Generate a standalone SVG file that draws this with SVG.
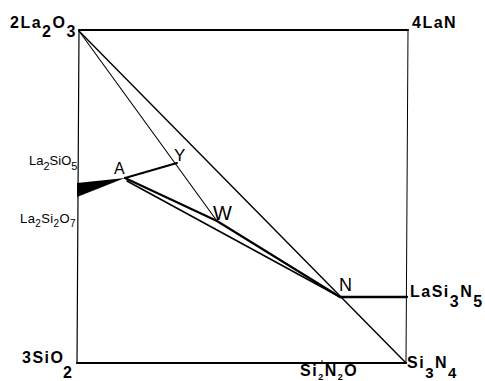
<svg xmlns="http://www.w3.org/2000/svg" width="485" height="381" viewBox="0 0 485 381">
<style>
.big{font-family:"Liberation Sans",Arial,sans-serif;font-size:16px;font-weight:bold;letter-spacing:1.5px;fill:#000}
.sm{font-family:"Liberation Sans",Arial,sans-serif;font-size:13px;fill:#000}
.pt{font-family:"Liberation Sans",Arial,sans-serif;fill:#000}
.ln{stroke:#000;fill:none;stroke-linecap:round;stroke-linejoin:round}
</style>
<rect width="485" height="381" fill="#fff"/>
<g id="connectors">
<line class="ln" x1="79" y1="30" x2="408" y2="30" stroke-width="2.2"/>
<line class="ln" x1="408" y1="30" x2="406" y2="363" stroke-width="1"/>
<line class="ln" x1="77" y1="363" x2="406" y2="363" stroke-width="2.2"/>
<line class="ln" x1="79" y1="30" x2="77" y2="363" stroke-width="1.2"/>
<line class="ln" x1="79" y1="31" x2="406" y2="363" stroke-width="1.4"/>
<line class="ln" x1="79" y1="31" x2="217" y2="221" stroke-width="1.1"/>
<line class="ln" x1="125" y1="178" x2="177" y2="163" stroke-width="2"/>
<polyline class="ln" points="125,178 217,221 340,297" stroke-width="2.2"/>
<line class="ln" x1="127" y1="181" x2="340" y2="297" stroke-width="1.6"/>
<line class="ln" x1="340" y1="297" x2="407" y2="297" stroke-width="2.3"/>
<polygon points="77,183 125,178 77,197" fill="#000"/>
<line class="ln" x1="322" y1="360.5" x2="322" y2="363" stroke-width="1"/>
</g>
<g id="La2O3"><text class="big" x="10" y="28">2La<tspan dy="9">2</tspan><tspan dy="-9">O</tspan><tspan dy="9">3</tspan></text></g>
<g id="LaN"><text class="big" x="412" y="28">4LaN</text></g>
<g id="SiO2"><text class="big" x="22" y="363">3SiO<tspan dx="-1.5" dy="15">2</tspan></text></g>
<g id="Si3N4"><text class="big" x="407" y="368">Si<tspan dy="10" font-size="15">3</tspan><tspan dy="-10">N</tspan><tspan dy="10" font-size="15">4</tspan></text></g>
<g id="LaSi3N5"><text class="big" x="410" y="297" font-size="17" letter-spacing="1.2">LaSi<tspan dy="10">3</tspan><tspan dy="-10">N</tspan><tspan dy="10">5</tspan></text></g>
<g id="Si2N2O"><text class="big" x="300" y="376" font-size="14" letter-spacing="1">Si<tspan dy="4" font-size="9">2</tspan><tspan dy="-4">N</tspan><tspan dy="4" font-size="9">2</tspan><tspan dy="-4">O</tspan></text></g>
<g id="La2SiO5"><text class="sm" x="29" y="165">La<tspan dy="5" font-size="11">2</tspan><tspan dy="-5">SiO</tspan><tspan dy="5" font-size="11">5</tspan></text></g>
<g id="La2Si2O7"><text class="sm" x="20" y="223" font-size="12" letter-spacing="0.4">La<tspan dy="4" font-size="10">2</tspan><tspan dy="-4">Si</tspan><tspan dy="4" font-size="10">2</tspan><tspan dy="-4">O</tspan><tspan dy="4" font-size="10">7</tspan></text></g>
<g id="A"><text class="pt" x="114" y="174" font-size="16">A</text></g>
<g id="Y"><text class="pt" x="174" y="161" font-size="17">Y</text></g>
<g id="W"><text class="pt" x="213" y="220" font-size="20">W</text></g>
<g id="N"><text class="pt" x="339" y="291" font-size="18">N</text></g>
</svg>
